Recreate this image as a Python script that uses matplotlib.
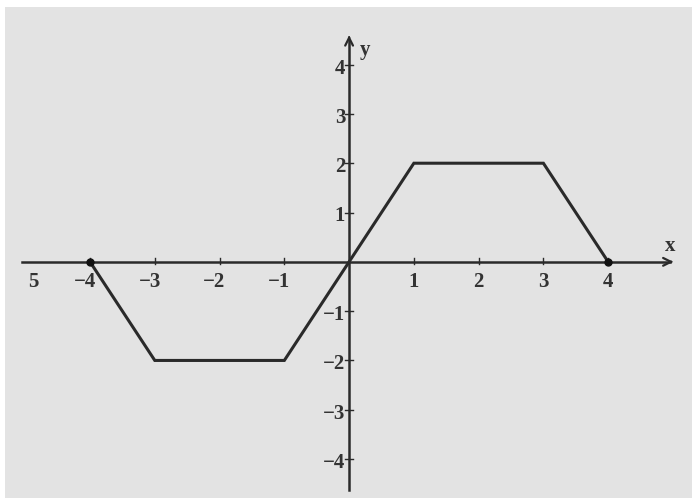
import matplotlib.pyplot as plt
from matplotlib.patches import Rectangle

# graph of the piecewise linear function
xs = [-4, -3, -1, 0, 1, 3, 4]
ys = [0, -2, -2, 0, 2, 2, 0]
end_x = [-4, 4]
end_y = [0, 0]

x_ticks = [-4, -3, -2, -1, 1, 2, 3, 4]
x_tick_labels = ['\u22124', '\u22123', '\u22122', '\u22121', '1', '2', '3', '4']
y_ticks = [-4, -3, -2, -1, 1, 2, 3, 4]
y_tick_labels = ['\u22124', '\u22123', '\u22122', '\u22121', '1', '2', '3', '4']

ink = '#2a2a2a'
font = dict(family='Liberation Serif', fontweight='bold', fontsize=15, color='#333333')

fig = plt.figure(figsize=(6.93, 4.99), dpi=100)
fig.patch.set_facecolor('white')

ax = fig.add_axes([0, 0, 1, 1])
ax.set_facecolor('none')
ax.set_xlim(-5.39, 5.31)
ax.set_ylim(-4.81, 5.31)
ax.axis('off')

# scanned page background
ax.add_patch(Rectangle((5 / 693, 1 / 499), 687 / 693, 491 / 499,
                       transform=fig.transFigure, facecolor='#e3e3e3',
                       edgecolor='none', zorder=0))

# axes with arrows
ax.plot([-5.05, 4.95], [0, 0], color=ink, lw=1.8, zorder=2)
ax.plot([0, 0], [-4.63, 4.5], color=ink, lw=1.8, zorder=2)
ax.annotate('', xy=(5.05, 0), xytext=(4.9, 0),
            arrowprops=dict(arrowstyle='->', color=ink, lw=1.6, mutation_scale=14))
ax.annotate('', xy=(0, 4.65), xytext=(0, 4.45),
            arrowprops=dict(arrowstyle='->', color=ink, lw=1.6, mutation_scale=14))

# tick marks
for t in x_ticks:
    ax.plot([t, t], [-0.05, 0.07], color=ink, lw=1, zorder=2)
for t in y_ticks:
    ax.plot([-0.06, 0.06], [t, t], color=ink, lw=1, zorder=2)

# tick labels
ax.text(-4.87, -0.4, '5', ha='center', va='center', **font)
for t, lab in zip(x_ticks, x_tick_labels):
    off = -0.08 if t < 0 else 0.0
    ax.text(t + off, -0.4, lab, ha='center', va='center', **font)
for t, lab in zip(y_ticks, y_tick_labels):
    ax.text(-0.06, t - 0.08, lab, ha='right', va='center', **font)

ax.text(0.24, 4.3, 'y', ha='center', va='center', **font)
ax.text(4.96, 0.32, 'x', ha='center', va='center', **font)

# function graph
ax.plot(xs, ys, color=ink, lw=2.2, solid_joinstyle='miter', zorder=3)
ax.plot(end_x, end_y, 'o', color='#111111', ms=5, zorder=4)

fig.savefig('out.png', dpi=100)
